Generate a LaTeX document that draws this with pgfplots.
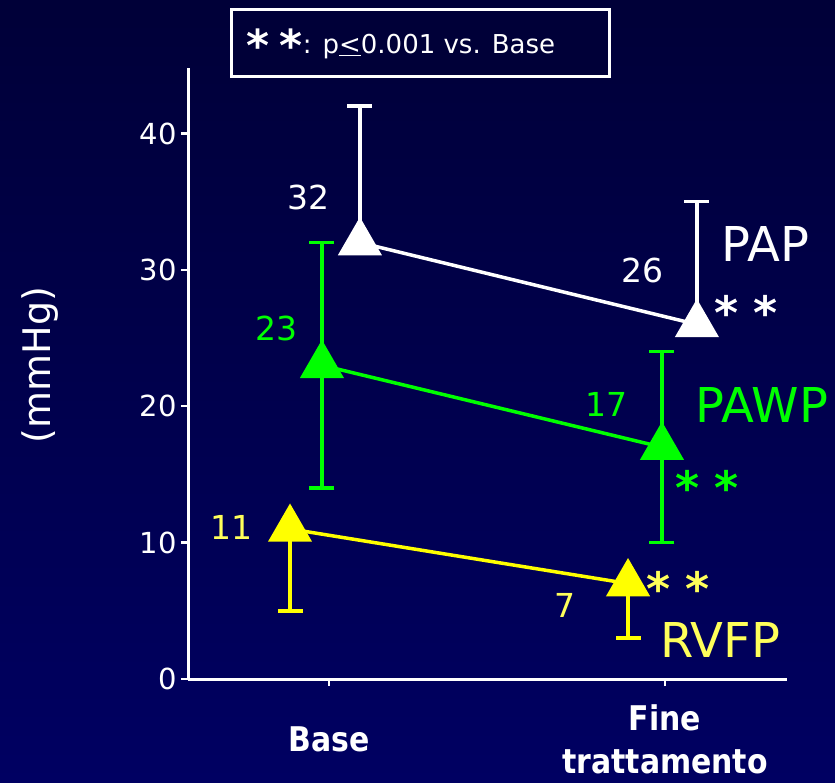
\documentclass[border=0pt]{standalone}
\usepackage{fontspec}
\setmainfont{DejaVu Sans}
\newfontfamily\xlabfont[FakeStretch=0.88]{DejaVu Sans}
\usepackage{pgfplots}
\pgfplotsset{compat=1.18}
\definecolor{bgtop}{RGB}{0,0,56}
\definecolor{bgbot}{RGB}{0,0,98}
\definecolor{pgreen}{RGB}{0,255,0}
\definecolor{pyellow}{RGB}{255,255,0}
\definecolor{tyellow}{RGB}{255,255,90}
\begin{document}
\begin{tikzpicture}[x=1pt,y=1pt]
\shade[top color=bgtop, bottom color=bgbot] (0,0) rectangle (835,782);
\begin{axis}[
  at={(188pt,103pt)}, anchor=south west,
  scale only axis, width=599pt, height=611pt,
  xmin=-0.4196, xmax=1.3631, ymin=0, ymax=44.8,
  axis lines=left, axis line style={white, line width=3pt, -},
  clip=false,
  /pgf/number format/assume math mode=true,
  xtick={0,1}, xticklabels={Base,{Fine\\trattamento}},
  ytick={0,10,20,30,40},
  tick style={white, line width=2.5pt},
  major tick length=7pt, tick align=outside,
  yticklabel style={white, font=\fontsize{29}{29}\selectfont, xshift=-1pt},
  xticklabel style={white, font=\xlabfont\bfseries\fontsize{34}{43}\selectfont, align=center, anchor=center, yshift=-53pt},
  ylabel={(mmHg)},
  ylabel style={white, font=\fontsize{38}{38}\selectfont, at={(axis description cs:-0.247,0.514)}, anchor=center},
]
% PAP
\addplot[white, line width=3.5pt, mark=triangle*, mark size=22pt, mark options={solid, fill=white},
  error bars/.cd, y dir=plus, y explicit,
  error bar style={line width=3.5pt, white},
  error mark options={rotate=90, mark size=12.5pt, line width=3.5pt, white}]
  coordinates {(0.092,32) +- (0,10) (1.095,26) +- (0,9)};
% PAWP
\addplot[pgreen, line width=3.5pt, mark=triangle*, mark size=22pt, mark options={solid, fill=pgreen},
  error bars/.cd, y dir=both, y explicit,
  error bar style={line width=3.5pt, pgreen},
  error mark options={rotate=90, mark size=12.5pt, line width=3.5pt, pgreen}]
  coordinates {(-0.021,23) +- (0,9) (0.991,17) +- (0,7)};
% RVFP
\addplot[pyellow, line width=3.5pt, mark=triangle*, mark size=22pt, mark options={solid, fill=pyellow},
  error bars/.cd, y dir=minus, y explicit,
  error bar style={line width=3.5pt, pyellow},
  error mark options={rotate=90, mark size=12.5pt, line width=3.5pt, pyellow}]
  coordinates {(-0.116,11) +- (0,6) (0.890,7) +- (0,4)};

\begin{scope}[font=\fontsize{33}{33}\selectfont]
\node[white] at (axis cs:-0.060,35.3) {32};
\node[white] at (axis cs:0.932,29.96) {26};
\node[pgreen] at (axis cs:-0.155,25.7) {23};
\node[pgreen] at (axis cs:0.827,20.1) {17};
\node[tyellow] at (axis cs:-0.289,11.1) {11};
\node[tyellow] at (axis cs:0.702,5.4) {7};
\end{scope}
\begin{scope}[font=\fontsize{48}{48}\selectfont]
\node[white] at (axis cs:1.298,31.9) {PAP};
\node[pgreen] at (axis cs:1.289,20.1) {PAWP};
\node[tyellow] at (axis cs:1.164,2.86) {RVFP};
\end{scope}
\begin{scope}[font=\fontsize{46}{46}\selectfont\bfseries]
\node[white, yshift=-8pt] at (axis cs:1.241,27.5) {*\,\,*};
\node[pgreen, yshift=-8pt] at (axis cs:1.125,14.6) {*\,\,*};
\node[tyellow, yshift=-8pt] at (axis cs:1.039,7.25) {*\,\,*};
\end{scope}
\end{axis}
\draw[white, line width=3pt, fill=bgtop] (231,705) rectangle (609,772);
\node[white, font=\fontsize{26}{26}\selectfont] at (401,737)
  {\raisebox{-8pt}{\fontsize{44}{44}\selectfont\bfseries *}\hspace{10pt}\raisebox{-8pt}{\fontsize{44}{44}\selectfont\bfseries *}: p\underline{<}0.001 vs. Base};
\end{tikzpicture}
\end{document}
